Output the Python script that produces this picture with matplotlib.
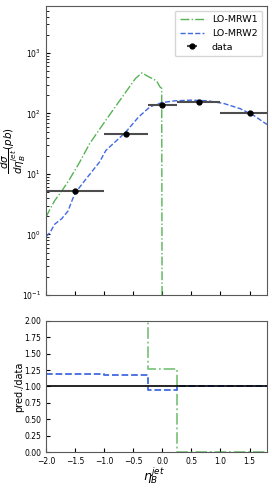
import numpy as np
import matplotlib
matplotlib.use("Agg")
import matplotlib.pyplot as plt

# curvas (eta, dsigma/deta en pb)
eta_mrw1 = [-2.0, -1.93, -1.85, -1.73, -1.59, -1.42, -1.25, -0.97, -0.69, -0.46,
            -0.35, -0.24, -0.10, -0.04, -0.01, 0.0]
xs_mrw1 = [1.92, 2.63, 3.63, 5.19, 8.3, 15.7, 31.6, 77.6, 186.0, 380.0,
           468.0, 407.0, 347.0, 275.0, 260.0, 1e-3]

eta_mrw2 = [-2.0, -1.93, -1.85, -1.73, -1.62, -1.54, -1.48, -1.31, -1.08, -0.97,
            -0.63, -0.41, -0.21, -0.01, 0.22, 0.50, 0.78, 1.06, 1.34, 1.57, 1.74, 1.8]
xs_mrw2 = [0.92, 1.08, 1.48, 1.82, 2.45, 3.9, 5.1, 8.3, 15.7, 24.5,
           49.0, 87.0, 129.0, 151.0, 162.0, 166.0, 162.0, 146.0, 120.0, 93.0, 72.0, 66.0]

# datos medidos
bordes = [-2.0, -1.0, -0.25, 0.25, 1.0, 2.0]
eta_datos = [-1.5, -0.625, 0.0, 0.625, 1.5]
xs_datos = [5.2, 46.0, 137.0, 155.0, 101.0]

# cocientes pred./data por bin
ratio_mrw1 = [5.0, 5.0, 1.27, 0.0, 0.0]
ratio_mrw2 = [1.19, 1.18, 0.95, 1.01, 1.00]

bordes = np.array(bordes)
centros = np.array(eta_datos)
xerr = [centros - bordes[:-1], bordes[1:] - centros]

verde = '#2ca02c'
azul = '#4169e1'

fig = plt.figure(figsize=(2.72, 4.9), dpi=100)
ax1 = fig.add_axes([0.169, 0.398, 0.8125, 0.590])
ax2 = fig.add_axes([0.169, 0.077, 0.8125, 0.2686], sharex=ax1)

ax1.plot(eta_mrw1, xs_mrw1, linestyle='-.', color=verde, lw=1.0, alpha=0.8, label='LO-MRW1')
ax1.plot(eta_mrw2, xs_mrw2, linestyle='--', color=azul, lw=1.0, label='LO-MRW2')
ax1.errorbar(eta_datos, xs_datos, xerr=xerr, fmt='o', color='k', ecolor='0.3',
             elinewidth=1.5, markersize=3.5, label='data')
ax1.set_yscale('log')
ax1.set_ylim(0.1, 6000)
ax1.set_xlim(-2.0, 1.8)
ax1.set_ylabel(r'$\dfrac{d\sigma}{d\eta_B^{jet}}(pb)$', fontsize=7.5)
ax1.yaxis.set_label_coords(-0.08, 0.5)
ax1.legend(loc='upper right', fontsize=6.8, handlelength=2.6, borderpad=0.5)
plt.setp(ax1.get_xticklabels(), visible=False)

ax2.step(bordes, ratio_mrw1 + ratio_mrw1[-1:], where='post', linestyle='-.',
         color=verde, lw=1.3, alpha=0.6)
ax2.step(bordes, ratio_mrw2 + ratio_mrw2[-1:], where='post', linestyle='--',
         color=azul, lw=1.3)
ax2.axhline(1.0, color='k', lw=1.2)
ax2.set_ylim(0, 2)
ax2.set_yticks(np.arange(0, 2.01, 0.25))
ax2.set_xticks([-2.0, -1.5, -1.0, -0.5, 0.0, 0.5, 1.0, 1.5])
ax2.set_ylabel('pred./data', fontsize=7)
ax2.yaxis.set_label_coords(-0.1, 0.5)
ax2.set_xlabel(r'$\eta_B^{jet}$', fontsize=9)
ax2.xaxis.set_label_coords(0.49, -0.1)

for ax in (ax1, ax2):
    ax.tick_params(direction='in', labelsize=5.5, width=0.8, length=3)
    ax.tick_params(which='minor', direction='in', length=1.8, width=0.6)
    for s in ax.spines.values():
        s.set_color('0.35')

fig.savefig('out.png', dpi=100)
